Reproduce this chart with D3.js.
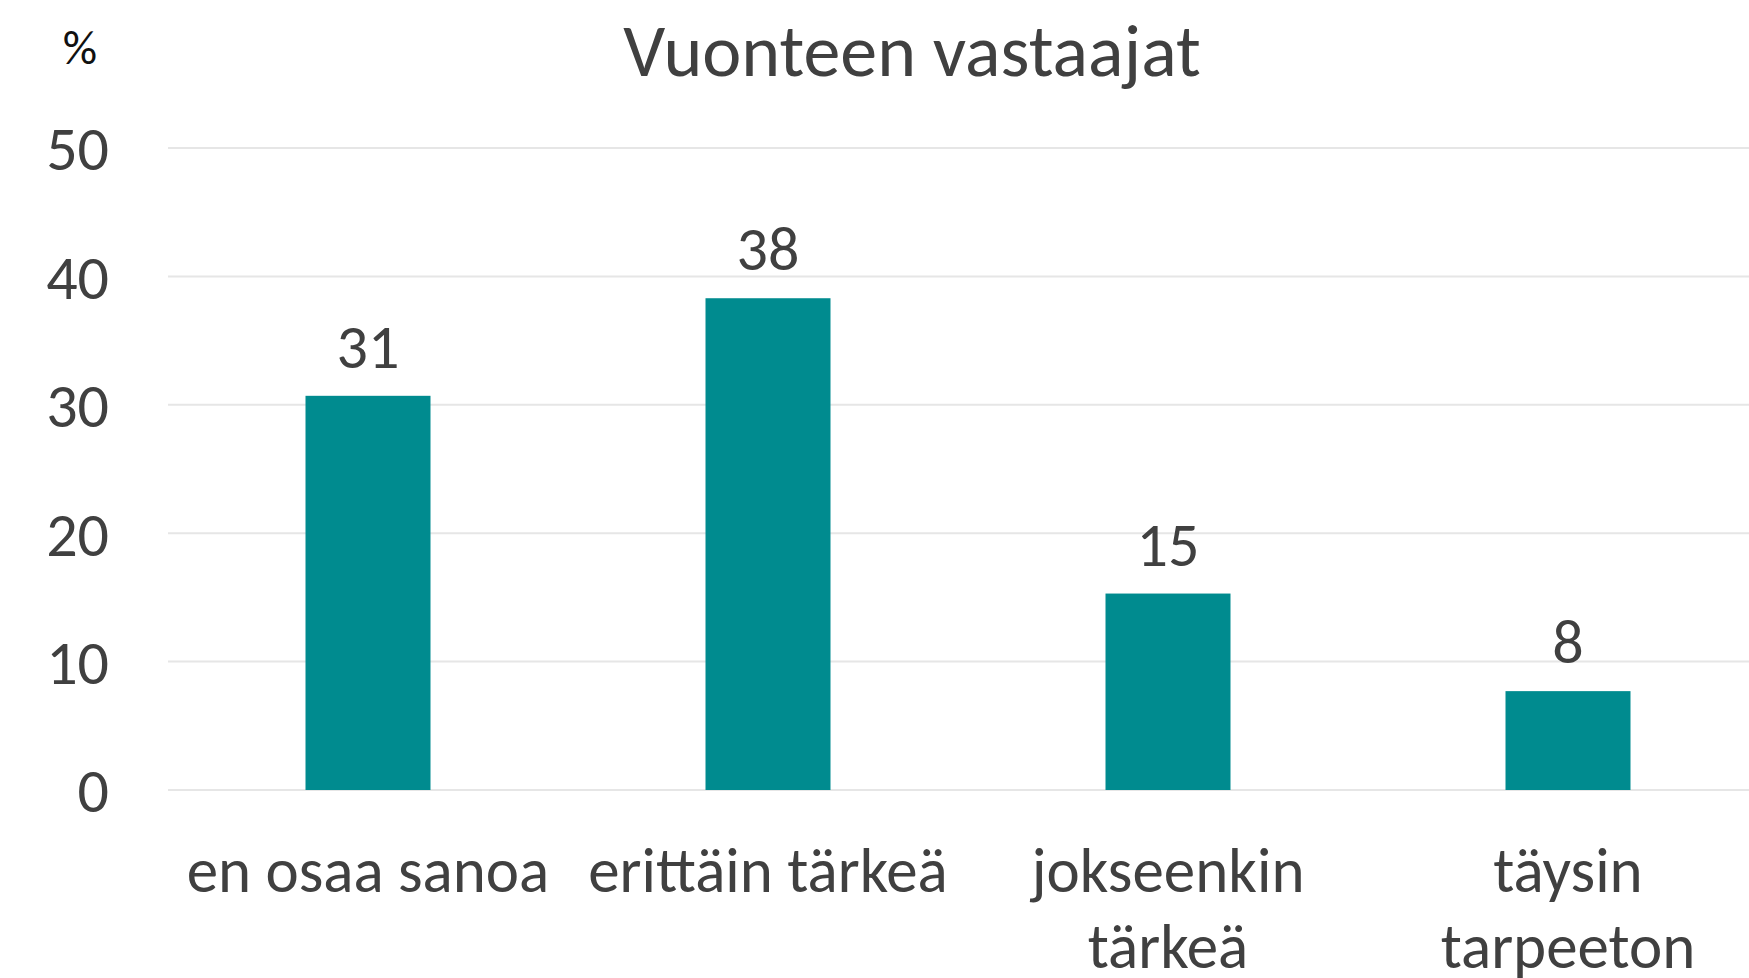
<!DOCTYPE html>
<html>
<head>
<meta charset="utf-8">
<script src="https://cdn.jsdelivr.net/npm/d3@7"></script>
<style>
	body { margin: 0; background: #fff; }
	svg { display: block; font-family: Carlito, Lato, "Open Sans", sans-serif; }
</style>
</head>
<body>
<svg id="chart" width="1749" height="978"></svg>
<script>

// Data

var categories = [["en osaa sanoa"], ["erittäin tärkeä"], ["jokseenkin", "tärkeä"], ["täysin", "tarpeeton"]];
var values = [30.7, 38.3, 15.3, 7.7];
var valueLabels = ["31", "38", "15", "8"];
var yTicks = [0, 10, 20, 30, 40, 50];
var title = "Vuonteen vastaajat";
var unitLabel = "%";

var svg = d3.select("#chart");

var x = d3.scaleBand()
	.domain(d3.range(categories.length))
	.range([168, 1768])
	.paddingInner(0.6875)
	.paddingOuter(0.34375);

var y = d3.scaleLinear()
	.domain([0, 50])
	.range([790, 148]);

// Gridlines
svg.append("g")
	.selectAll("line")
	.data(yTicks)
	.enter().append("line")
	.attr("x1", 168)
	.attr("x2", 1749)
	.attr("y1", function (d) { return y(d); })
	.attr("y2", function (d) { return y(d); })
	.style("stroke", "#e6e6e6")
	.style("stroke-width", 2);

// Y axis labels
svg.append("g")
	.selectAll("text")
	.data(yTicks)
	.enter().append("text")
	.attr("x", 109)
	.attr("y", function (d) { return y(d); })
	.attr("dy", "0.36em")
	.attr("text-anchor", "end")
	.style("font-size", "62px")
	.style("fill", "#404040")
	.text(function (d) { return d; });

// Bars
svg.append("g")
	.selectAll("rect")
	.data(values)
	.enter().append("rect")
	.attr("x", function (d, i) { return x(i); })
	.attr("width", x.bandwidth())
	.attr("y", function (d) { return y(d); })
	.attr("height", function (d) { return y(0) - y(d); })
	.style("fill", "#008b8f");

// Value labels
svg.append("g")
	.selectAll("text")
	.data(values)
	.enter().append("text")
	.attr("x", function (d, i) { return x(i) + x.bandwidth() / 2; })
	.attr("y", function (d) { return y(d) - 28; })
	.attr("text-anchor", "middle")
	.style("font-size", "62px")
	.style("fill", "#404040")
	.text(function (d, i) { return valueLabels[i]; });

// Category labels
var catText = svg.append("g")
	.selectAll("text")
	.data(categories)
	.enter().append("text")
	.attr("x", function (d, i) { return x(i) + x.bandwidth() / 2; })
	.attr("y", 892)
	.attr("text-anchor", "middle")
	.style("font-size", "63px")
	.style("fill", "#404040");

catText.selectAll("tspan")
	.data(function (d) { return d; })
	.enter().append("tspan")
	.attr("x", function () { return d3.select(this.parentNode).attr("x"); })
	.attr("dy", function (d, i) { return i == 0 ? 0 : 76; })
	.text(function (d) { return d; });

// Title
svg.append("text")
	.attr("x", 912)
	.attr("y", 76)
	.attr("text-anchor", "middle")
	.style("font-size", "74px")
	.style("fill", "#404040")
	.text(title);

svg.append("text")
	.attr("x", 80)
	.attr("y", 64)
	.attr("text-anchor", "middle")
	.style("font-size", "48px")
	.style("fill", "#111")
	.text(unitLabel);

</script>
</body>
</html>
